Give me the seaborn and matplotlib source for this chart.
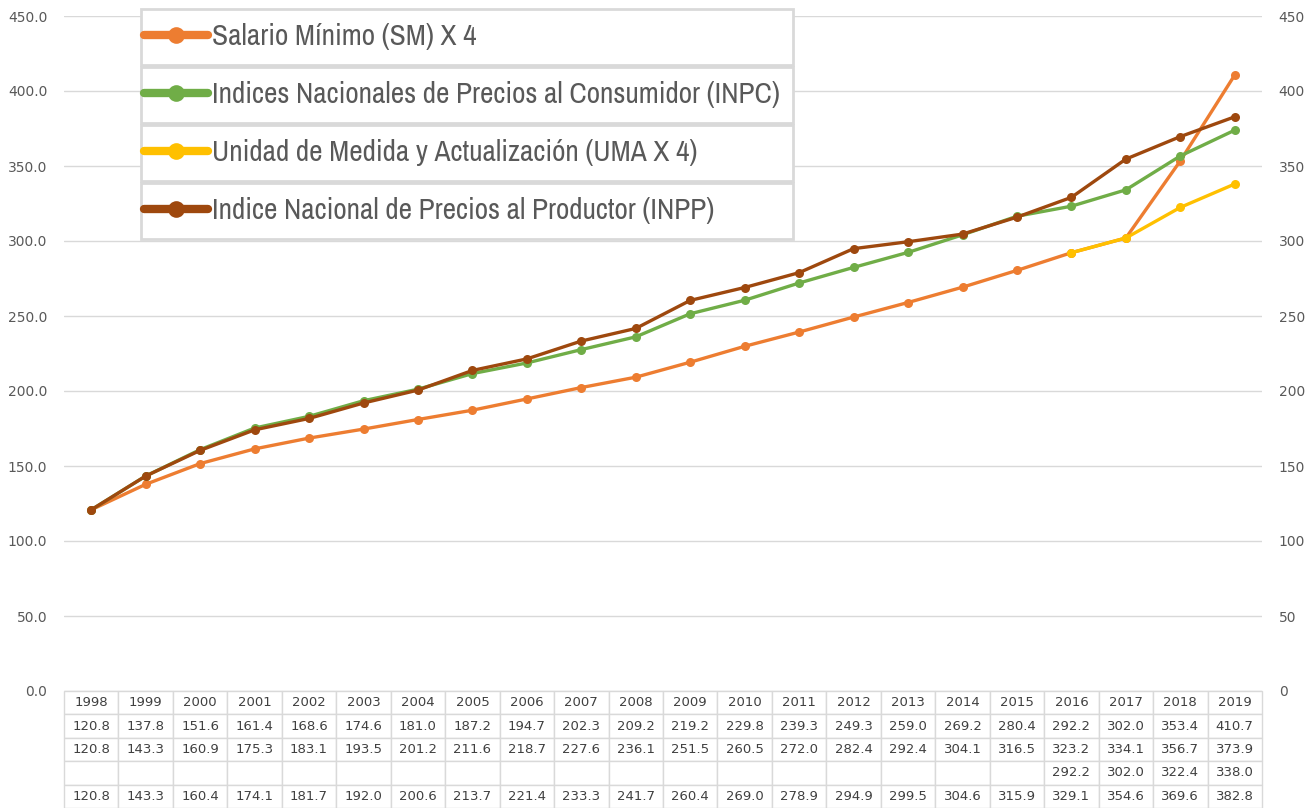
import numpy as np
import pandas as pd
import matplotlib
matplotlib.use("Agg")
import matplotlib.pyplot as plt
from matplotlib import font_manager
from matplotlib.lines import Line2D
from matplotlib.patches import Rectangle
import seaborn as sns

anios = [1998, 1999, 2000, 2001, 2002, 2003, 2004, 2005, 2006, 2007, 2008,
         2009, 2010, 2011, 2012, 2013, 2014, 2015, 2016, 2017, 2018, 2019]
sm = [120.8, 137.8, 151.6, 161.4, 168.6, 174.6, 181.0, 187.2, 194.7, 202.3, 209.2,
      219.2, 229.8, 239.3, 249.3, 259.0, 269.2, 280.4, 292.2, 302.0, 353.4, 410.7]
inpc = [120.8, 143.3, 160.9, 175.3, 183.1, 193.5, 201.2, 211.6, 218.7, 227.6, 236.1,
        251.5, 260.5, 272.0, 282.4, 292.4, 304.1, 316.5, 323.2, 334.1, 356.7, 373.9]
uma = [None] * 18 + [292.2, 302.0, 322.4, 338.0]
inpp = [120.8, 143.3, 160.4, 174.1, 181.7, 192.0, 200.6, 213.7, 221.4, 233.3, 241.7,
        260.4, 269.0, 278.9, 294.9, 299.5, 304.6, 315.9, 329.1, 354.6, 369.6, 382.8]

series = [
    ("Salario Mínimo (SM) X 4", sm, "#ED7D31"),
    ("Indices Nacionales de Precios al Consumidor (INPC)", inpc, "#70AD47"),
    ("Unidad de Medida y Actualización (UMA X 4)", uma, "#FFC000"),
    ("Indice Nacional de Precios al Productor (INPP)", inpp, "#9E480E"),
]

sns.set_style("white")
plt.rcParams['font.family'] = ['DejaVu Sans']
gris = "#595959"
borde = "#D9D9D9"

# fuente estrecha para la leyenda, si hay alguna instalada
nombres = sorted({f.name for f in font_manager.fontManager.ttflist})
estrechas = [n for n in nombres if "Narrow" in n or "Condensed" in n]
fuente_leyenda = estrechas[0] if estrechas else "Liberation Sans"

W, H = 1311, 808
fig = plt.figure(figsize=(W / 100, H / 100), dpi=100)
ax = fig.add_axes([64 / W, 1 - 691 / H, 1198 / W, 675 / H])

pos = np.arange(len(anios))
for nombre, valores, color in series:
    df = pd.DataFrame({"x": pos, "y": pd.to_numeric(pd.Series(valores), errors="coerce")})
    sns.lineplot(data=df.dropna(), x="x", y="y", ax=ax, color=color, linewidth=2.4,
                 marker="o", markersize=6.5, markeredgewidth=0, legend=False)

ax.set_xlim(-0.5, len(anios) - 0.5)
ax.set_ylim(0, 450)
ax.set_yticks(np.arange(0, 451, 50))
ax.set_yticklabels([f"{v:.1f}" for v in np.arange(0, 451, 50)])
ax.set_xticks([])
ax.set_xlabel("")
ax.set_ylabel("")
ax.grid(axis="y", color=borde, linewidth=1)
ax.tick_params(axis="y", length=0, pad=12, labelsize=10, labelcolor=gris)
for s in ax.spines.values():
    s.set_visible(False)

ax2 = ax.twinx()
ax2.set_ylim(0, 450)
ax2.set_yticks(np.arange(0, 451, 50))
ax2.set_yticklabels([f"{v:d}" for v in np.arange(0, 451, 50)])
ax2.tick_params(axis="y", length=0, pad=12, labelsize=10, labelcolor=gris)
for s in ax2.spines.values():
    s.set_visible(False)

# Tabla de datos
def fmt(v):
    return "" if v is None else f"{v:.1f}"

celdas = [[str(a) for a in anios]] + [[fmt(v) for v in valores] for _, valores, _ in series]
tabla = ax.table(cellText=celdas, cellLoc="center", bbox=[0, -0.1733, 1, 0.1733])
tabla.auto_set_font_size(False)
tabla.set_fontsize(9.5)
for (r, c), cell in tabla.get_celld().items():
    cell.set_edgecolor(borde)
    cell.set_linewidth(1)
    cell.get_text().set_color("#404040")

# tamaño de letra para que el texto más largo mida ~568 px
renderer = fig.canvas.get_renderer()
prueba = fig.text(0, 0, series[1][0], family=[fuente_leyenda, "DejaVu Sans"], size=20)
ancho = prueba.get_window_extent(renderer).width
prueba.remove()
tam = 20 * 568 / ancho
px = tam * 100 / 72

# Leyenda: un recuadro por serie
alto = 56
tops = [9, 67, 125, 183]
for i, (nombre, _, color) in enumerate(series):
    y0 = 1 - (tops[i] + alto) / H
    fig.patches.append(Rectangle((141 / W, y0), 652 / W, alto / H, transform=fig.transFigure,
                                 facecolor="white", edgecolor=borde, linewidth=2, zorder=2))
    h = Line2D([], [], color=color, linewidth=6, marker="o", markersize=12,
               markeredgewidth=0, solid_capstyle="round")
    leg = fig.legend(handles=[h], labels=[nombre], loc="center left",
                     bbox_to_anchor=(143 / W, y0, 650 / W, alto / H),
                     bbox_transform=fig.transFigure, frameon=False,
                     borderpad=0.05, handlelength=64 / px, handleheight=0.7,
                     handletextpad=4 / px, borderaxespad=0,
                     prop={"family": [fuente_leyenda, "DejaVu Sans"], "size": tam})
    for t in leg.get_texts():
        t.set_color(gris)

fig.savefig("out.png", dpi=100)
